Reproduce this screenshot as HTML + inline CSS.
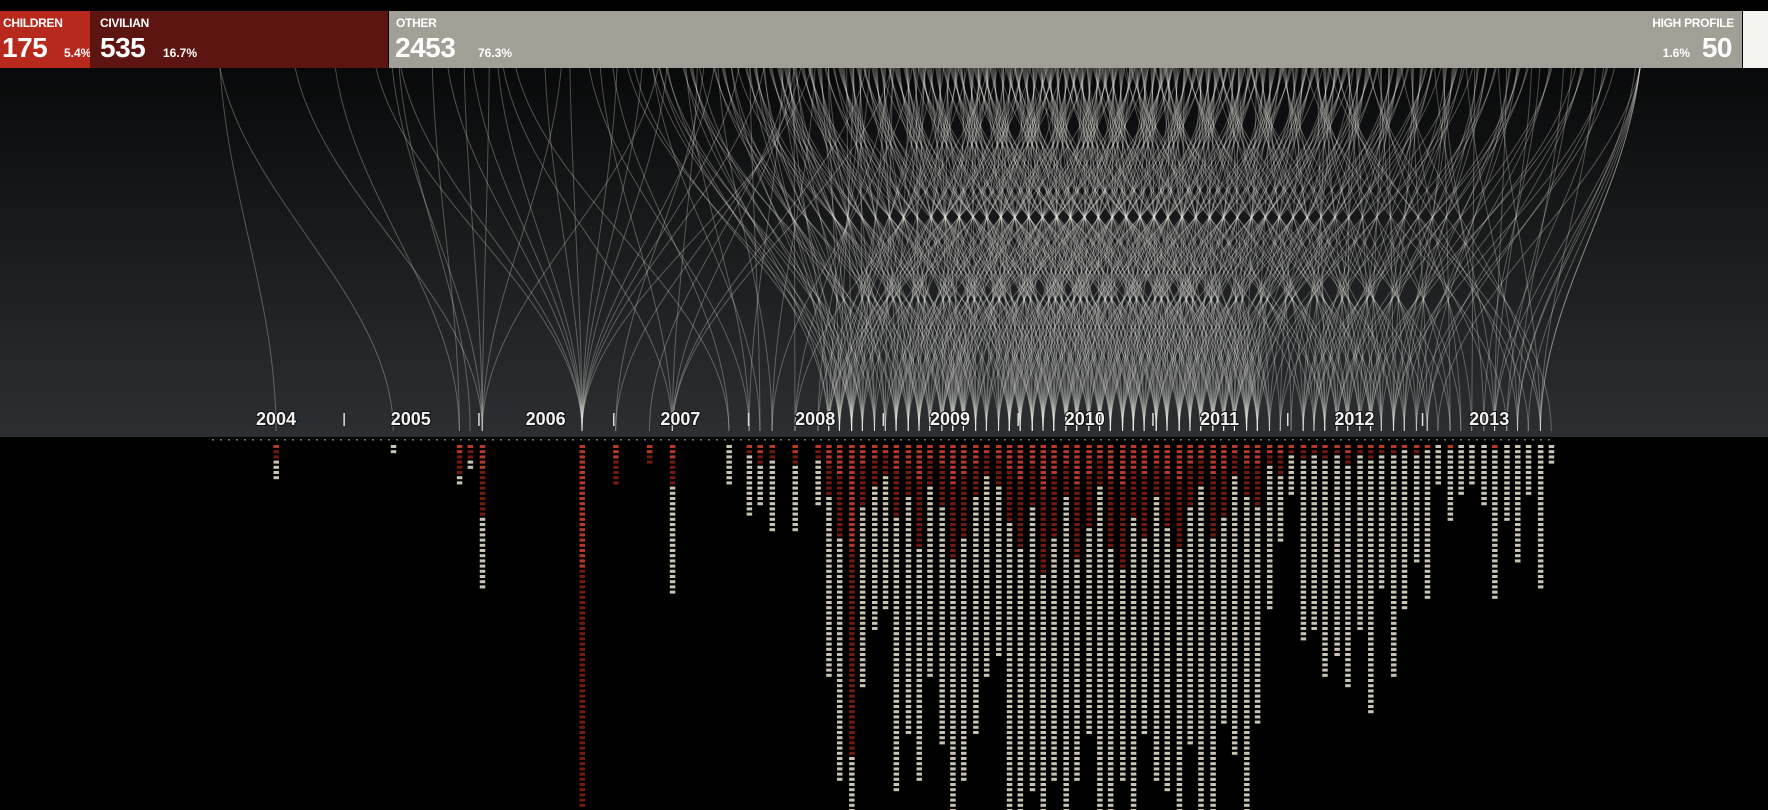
<!DOCTYPE html>
<html><head><meta charset="utf-8">
<style>
html,body{margin:0;padding:0;background:#000;width:1768px;height:810px;overflow:hidden;font-family:"Liberation Sans",sans-serif}
#wrap{position:relative;width:1768px;height:810px}
.hd{position:absolute;top:11px;height:57px;color:#fff;overflow:hidden}
.lbl{position:absolute;top:5px;font-size:12px;font-weight:bold;letter-spacing:-0.3px}
.num{position:absolute;top:21px;font-size:28px;font-weight:bold;letter-spacing:-0.5px}
.pct{position:absolute;top:35px;font-size:12px;font-weight:bold}
</style></head><body>
<div id="wrap">
<svg id="chart" width="1768" height="810" style="position:absolute;left:0;top:0">
<defs><linearGradient id="bg" x1="0" y1="0" x2="0" y2="1"><stop offset="0" stop-color="#08090a"/><stop offset="1" stop-color="#2c2f32"/></linearGradient></defs>
<rect x="0" y="68" width="1768" height="369" fill="url(#bg)"/>
<g id="arcs"></g><g id="axis"></g><g id="cols"></g>
</svg>
<div class="hd" style="left:0;width:90px;background:#b8291d"><span class="lbl" style="left:3px">CHILDREN</span><span class="num" style="left:2px">175</span><span class="pct" style="left:64px">5.4%</span></div>
<div class="hd" style="left:90px;width:298px;background:#5c1510"><span class="lbl" style="left:10px">CIVILIAN</span><span class="num" style="left:10px">535</span><span class="pct" style="left:73px">16.7%</span></div>
<div class="hd" style="left:389px;width:1353px;background:#a19f96"><span class="lbl" style="left:7px">OTHER</span><span class="num" style="left:6px">2453</span><span class="pct" style="left:89px">76.3%</span>
<span class="lbl" style="right:8px">HIGH PROFILE</span><span class="num" style="right:10px">50</span><span class="pct" style="right:52px">1.6%</span></div>
<div class="hd" style="left:1743px;width:25px;background:#f4f4f0"></div>
</div>
<script>
const colYears=[2004.0,2004.87,2005.36,2005.44,2005.53,2006.27,2006.52,2006.77,2006.94,2007.36,2007.51,2007.59,2007.68,2007.85,
2008.02,2008.10,2008.18,2008.27,2008.35,2008.44,2008.52,2008.60,2008.69,2008.77,2008.85,2008.94,2009.02,2009.10,2009.19,2009.27,2009.36,2009.44,2009.52,2009.61,2009.69,2009.77,2009.86,2009.94,2010.03,2010.11,2010.19,2010.28,2010.36,2010.44,2010.53,2010.61,2010.70,2010.78,2010.86,2010.95,2011.03,2011.11,2011.20,2011.28,2011.37,2011.45,2011.53,2011.62,2011.70,2011.78,2011.87,2011.95,2012.04,2012.12,2012.20,2012.29,2012.37,2012.46,2012.54,2012.62,2012.71,2012.79,2012.87,2012.96,2013.04,2013.13,2013.21,2013.29,2013.38,2013.46];
const redCounts=[3,0,6,3,14,70,8,4,8,0,2,4,3,4,
3,10,18,60,12,8,6,14,10,20,8,12,22,18,10,6,8,15,20,12,25,18,10,22,16,8,20,24,14,18,10,16,20,12,8,18,14,6,10,12,4,6,2,3,2,3,2,4,2,3,2,2,1,2,1,0,1,0,0,0,1,0,0,0,0,0];
const totalCounts=[7,2,8,5,28,70,8,4,29,8,14,12,17,17,
12,45,65,71,47,36,32,67,56,65,45,58,71,65,56,45,41,71,71,67,71,65,71,65,56,71,71,65,71,56,65,67,71,58,71,71,54,60,71,54,32,19,10,38,36,45,41,47,36,52,28,45,32,23,30,8,15,10,8,12,30,15,23,10,28,4];
const yearLabels=[2004,2005,2006,2007,2008,2009,2010,2011,2012,2013];
const NS="http://www.w3.org/2000/svg";
const AXY=437,X0=276,PX=134.8;
function xs(y){return X0+(y-2004)*PX;}
const axisG=document.getElementById('axis'),colG=document.getElementById('cols'),arcG=document.getElementById('arcs');
function mk(t,a,p){const e=document.createElementNS(NS,t);for(const k in a)e.setAttribute(k,a[k]);p.appendChild(e);return e;}
colYears.forEach((yr,i)=>{
  const xe=xs(yr);
  const n=Math.max(1,Math.round(totalCounts[i]/5));
  for(let j=0;j<n;j++){
    const off=((i*53+j*97)%460)-230;
    const sx=Math.max(220,Math.min(1640,xe+off));
    const p=mk('path',{d:`M${sx},68 C${sx+(xe-sx)*0.15},200 ${xe},300 ${xe},${AXY-6}`,stroke:'#eeeee6','stroke-width':1,fill:'none','stroke-opacity':0.3},arcG);
    
    
  }
});
for(let x=212;x<=1552;x+=8){mk('rect',{x:x,y:AXY+2,width:2,height:1.5,fill:'#777'},axisG);}
yearLabels.forEach(y=>{
  const t=mk('text',{x:xs(y),y:425,'text-anchor':'middle',fill:'#f2f2f2','font-size':18,'font-weight':'bold','font-family':'Liberation Sans, sans-serif',style:'paint-order:stroke',stroke:'#111','stroke-width':2},axisG);
  t.textContent=y;
  
  
  if(y<2013){const tk=mk('rect',{x:xs(y+0.5),y:413,width:1.5,height:13,fill:'#ddd'},axisG);
  
  }
});
colYears.forEach((yr,i)=>{
  const x=xs(yr)-2.5;
  const g=mk('g',{},colG);
  
  
  for(let k=0;k<totalCounts[i];k++){
    let c='#c9c4b4';
    if(k<redCounts[i]) c=(k<redCounts[i]/3)?'#b8392b':'#741a12';
    mk('rect',{x:x,y:AXY+8+k*5.2,width:5.5,height:3,fill:c},g);
  }
});
</script>
</body></html>
